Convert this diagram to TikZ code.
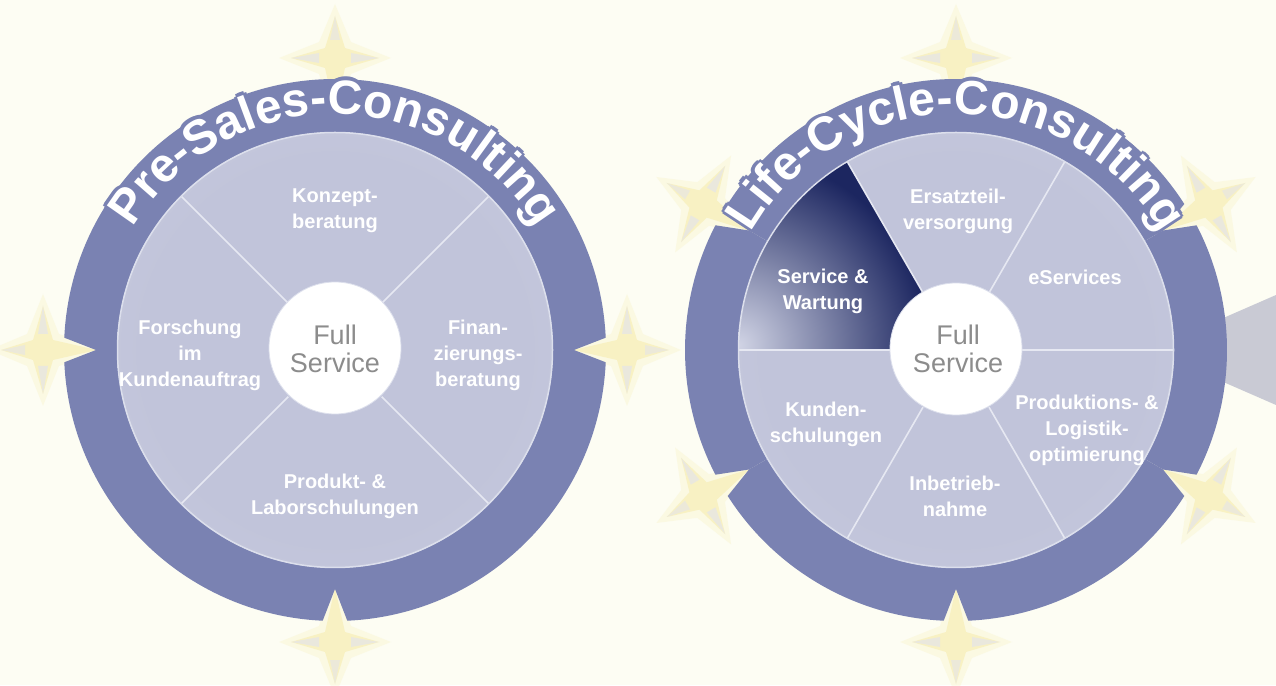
\documentclass[tikz,border=0pt]{standalone}
\usepackage{fontspec}
\setmainfont{Liberation Sans}
\usetikzlibrary{decorations.text}
\definecolor{bg}{HTML}{FDFDF3}
\definecolor{ringc}{HTML}{7A82B2}
\definecolor{discin}{HTML}{C1C4DA}
\definecolor{discout}{HTML}{D1D4E5}
\definecolor{sepc}{HTML}{E6E8F2}
\definecolor{navy}{HTML}{1C2660}
\definecolor{starY}{HTML}{F8F0BE}
\definecolor{starL}{HTML}{E2E3EF}
\definecolor{fullc}{HTML}{8C8C8C}
\definecolor{wedgec}{HTML}{C9CAD4}
\definecolor{rimc}{HTML}{DCDFEC}
\pgfdeclareradialshading{discshade}{\pgfpointorigin}{color(0bp)=(discin); color(22bp)=(discin); color(50bp)=(discout)}
\newcommand\titlefnt{\fontsize{48}{48}\selectfont\bfseries}
% star: #1 cx, #2 cy, #3 angle around circle
\newcommand\mystar[3]{%
\begin{scope}[shift={(#1,#2)}]
\begin{scope}[shift={(#3:292)},rotate={#3+180}]
\fill[starY,opacity=.3] (66,0) -- (16,16) -- (0,56) -- (-16,16) -- (-54,0) -- (-16,-16) -- (0,-56) -- (16,-16) -- cycle;
\fill[starY,opacity=.85] (54,0) -- (10,10) -- (0,44) -- (-10,10) -- (-42,0) -- (-10,-10) -- (0,-44) -- (10,-10) -- cycle;
\fill[starL,opacity=.6] (0,44) -- (5,16) -- (-5,16) -- cycle;
\fill[starL,opacity=.6] (0,-44) -- (5,-16) -- (-5,-16) -- cycle;
\fill[starL,opacity=.5] (-42,0) -- (-18,5) -- (-18,-5) -- cycle;
\end{scope}
\end{scope}}
% ring piece: #1 cx, #2 cy, #3 start notch angle, #4 end notch angle
\newcommand\ringpiece[4]{%
\fill[ringc,shift={(#1,#2)}] (#3:216) -- (#3:239) -- ({#3+2.6}:271)
  arc[start angle={#3+2.6},end angle={#4-2.6},radius=271]
  -- (#4:239) -- (#4:216) arc[start angle=#4,end angle=#3,radius=216] -- cycle;}
% title along arc: #1 cx, #2 cy, #3 colour, #4 text
\newcommand\titlearc[4]{%
\path[shift={(#1,#2)},decorate,decoration={text along path,text align=center,
  text={|\titlefnt\color{#3}|#4}}] (165:236) arc[start angle=165,end angle=15,radius=236];}
\begin{document}
\begin{tikzpicture}[x=1pt,y=1pt,
  lbl/.style={text=white,font=\fontsize{20}{26}\selectfont\bfseries,align=center,inner sep=0pt},
  fs/.style={text=fullc,font=\fontsize{27}{28}\selectfont,align=center,inner sep=0pt},
  sep/.style={draw=sepc,line width=1.6pt},
  hub/.style={fill=white,draw=rimc,line width=0.8pt}]
\useasboundingbox (0,0) rectangle (1276,685);
\fill[bg] (0,0) rectangle (1276,685);
% stars
\foreach \a in {0,90,180,270} {\mystar{335}{335}{\a}}
\foreach \a in {30,90,150,210,270,330} {\mystar{956}{335}{\a}}
% grey wedge at right edge
\fill[wedgec] (1276,390) -- (1150,335) -- (1276,280) -- cycle;
% rings
\ringpiece{335}{335}{0}{180}
\ringpiece{335}{335}{180}{270}
\ringpiece{335}{335}{270}{360}
\ringpiece{956}{335}{30}{150}
\ringpiece{956}{335}{150}{210}
\ringpiece{956}{335}{210}{270}
\ringpiece{956}{335}{270}{330}
\ringpiece{956}{335}{330}{390}
% discs
\shade[shading=discshade] (335,335) circle (218);
\shade[shading=discshade] (956,335) circle (218);
% dark segment
\begin{scope}
\clip[shift={(956,335)}] (0,0) -- (120:218) arc[start angle=120,end angle=180,radius=218] -- cycle;
\fill[navy] (956,335) circle (218);
\shade[inner color=discout,outer color=navy] (738,340) circle (190);
\end{scope}
% separators
\foreach \a in {45,135,225,315} {\draw[sep,shift={(335,335)}] (\a:66) -- (\a:217);}
\foreach \a in {0,60,120,180,240,300} {\draw[sep,shift={(956,335)}] (\a:66) -- (\a:217);}
\draw[rimc,line width=1.5pt] (335,335) circle (217.5);
\draw[rimc,line width=1.5pt] (956,335) circle (217.5);
% hubs
\fill[hub] (335,337) circle (66);
\fill[hub] (956,336) circle (66);
\node[fs] (fsL) at (335,336) {Full\\Service};
\node[fs] (fsR) at (958,336) {Full\\Service};
% titles with a halo in the ring colour
\foreach \dx/\dy in {3.5/0,-3.5/0,0/3.5,0/-3.5,2.5/2.5,-2.5/2.5,2.5/-2.5,-2.5/-2.5} {
  \titlearc{335+\dx}{335+\dy}{ringc}{Pre-Sales-Consulting}
  \titlearc{956+\dx}{335+\dy}{ringc}{Life-Cycle-Consulting}
}
\titlearc{335}{335}{white}{Pre-Sales-Consulting}
\titlearc{956}{335}{white}{Life-Cycle-Consulting}
% left labels
\node[lbl] (konz) at (335,474) {Konzept-\\beratung};
\node[lbl] (fin) at (478,330) {Finan-\\zierungs-\\beratung};
\node[lbl] (for) at (190,330) {Forschung\\im\\Kundenauftrag};
\node[lbl] (prod) at (335,189) {Produkt- \&\\Laborschulungen};
% right labels
\node[lbl] (ers) at (958,474) {Ersatzteil-\\versorgung};
\node[lbl] (eser) at (1075,408) {eServices};
\node[lbl] (serv) at (823,394) {Service \&\\Wartung};
\node[lbl] (kund) at (826,261) {Kunden-\\schulungen};
\node[lbl] (inb) at (955,189) {Inbetrieb-\\nahme};
\node[lbl] (plo) at (1087,255) {Produktions- \&\\Logistik-\\optimierung};
\end{tikzpicture}
\end{document}
